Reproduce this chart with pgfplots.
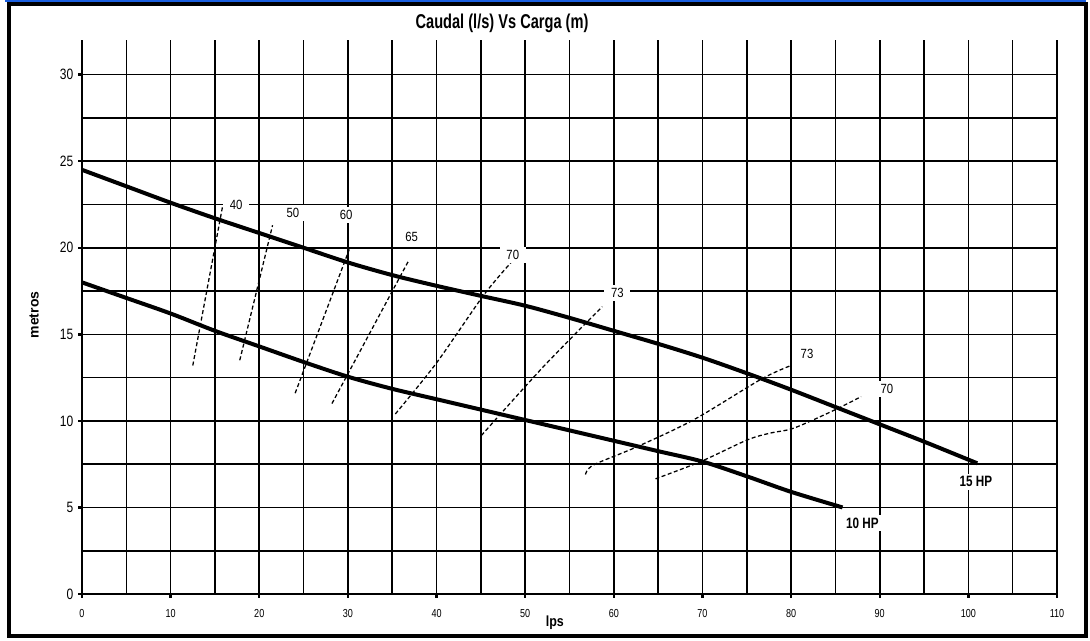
\documentclass[border=0pt]{standalone}
\usepackage{fontspec}
\setmainfont{Liberation Sans}
\usepackage{pgfplots}
\pgfplotsset{compat=1.18}
\definecolor{topblue}{HTML}{1A5FE0}
\newcommand{\sq}[2]{\scalebox{#1}[1]{#2}}

\begin{document}
\begin{tikzpicture}[
    curve/.style={black, line width=3pt, smooth, tension=0.5},
    eff/.style={black, line width=0.95pt, dash pattern=on 3pt off 1.9pt, smooth},
    lbl/.style={fill=white, inner xsep=5pt, inner ysep=2.5pt,
        font=\fontsize{10}{12}\selectfont},
    hp/.style={fill=white, inner xsep=2pt, inner ysep=2pt,
        font=\fontsize{11.25}{13}\selectfont\bfseries},
]
\begin{scope}[x=0.75pt,y=0.75pt]
\path[use as bounding box] (0,0) rectangle (1090,641);
\fill[topblue] (5,639) rectangle (1086,641);
\draw[line width=3pt] (9,5) rectangle (1086,637);
\end{scope}

\begin{axis}[
    at={(61.5pt,35.25pt)}, anchor=origin,
    scale only axis,
    width=731.25pt, height=415.5pt,
    xmin=0, xmax=110, ymin=0, ymax=32,
    axis lines*=left,
    axis line style={line width=2.2pt},
    xtick={0,10,...,110},
    ytick={0,5,...,30},
    minor xtick={5,15,...,105},
    minor ytick={2.5,7.5,...,27.5},
    grid=both,
    major grid style={black, line width=1.2pt},
    minor grid style={black, line width=1.2pt},
    tick align=outside,
    major tick length=3pt, minor tick length=0pt,
    tick style={black, line width=1.8pt},
    xticklabel={\sq{0.78}{\pgfmathprintnumber[assume math mode=true]{\tick}}},
    yticklabel={\sq{0.8}{\pgfmathprintnumber[assume math mode=true]{\tick}}},
    x tick label style={font=\fontsize{8.7}{10}\selectfont, yshift=-5pt},
    y tick label style={font=\fontsize{11.25}{13}\selectfont},
    title={\sq{0.73}{Caudal (l/s) Vs Carga (m)}},
    title style={font=\fontsize{15}{17}\selectfont\bfseries,
        at={(axis description cs:0.4308,1.0307)}, anchor=center, yshift=-6.5pt},
    xlabel={\sq{0.85}{lps}},
    xlabel style={font=\fontsize{11}{13}\selectfont\bfseries,
        at={(axis description cs:0.485,-0.0523)}, anchor=center},
    ylabel={metros},
    ylabel style={font=\fontsize{10.5}{12}\selectfont\bfseries,
        at={(axis description cs:-0.0492,0.5036)}, anchor=center},
]
% 15 HP
\addplot[curve] coordinates {
    (0,24.5) (5,23.55) (10,22.6) (15,21.7) (20,20.85) (25,20.0) (30,19.15)
    (35,18.42) (40,17.8) (45,17.22) (50,16.65) (55,15.95) (60,15.2)
    (65,14.45) (70,13.65) (75,12.75) (80,11.8) (85,10.8) (90,9.8)
    (95,8.8) (101,7.55)
};
% 10 HP
\addplot[curve] coordinates {
    (0,18.0) (5,17.1) (10,16.2) (15,15.2) (20,14.3) (25,13.4) (30,12.55)
    (35,11.85) (40,11.25) (45,10.65) (50,10.05) (55,9.45) (60,8.85)
    (65,8.25) (70,7.65) (75,6.8) (80,5.9) (85.8,5.0)
};
% iso-efficiency lines
\addplot[eff] coordinates {(12.5,13.2) (15.9,22.5)};
\addplot[eff] coordinates {(17.8,13.5) (21.5,21.3)};
\addplot[eff] coordinates {(24.05,11.6) (30.15,19.9)};
\addplot[eff] coordinates {(28.2,11.0) (36.85,19.25)};
\addplot[eff] coordinates {(35.35,10.4) (40,13.35) (45.3,17.25) (48.5,19.2)};
\addplot[eff] coordinates {(45.05,9.15) (52,13.1) (58.7,16.6)};
\addplot[eff] coordinates {(56.8,6.9) (57.7,7.45) (62.6,8.5) (69,10.06) (76.6,12.4) (80,13.2)};
\addplot[eff] coordinates {(64.7,6.65) (69.8,7.65) (75.06,8.9) (77.7,9.3) (80.3,9.58) (84.8,10.6) (87.9,11.4)};

\node[lbl] at (axis cs:17.4,22.5) {\sq{0.85}{40}};
\node[lbl] at (axis cs:23.8,22.0) {\sq{0.85}{50}};
\node[lbl] at (axis cs:29.8,21.9) {\sq{0.85}{60}};
\node[lbl] at (axis cs:37.2,20.65) {\sq{0.85}{65}};
\node[lbl] at (axis cs:48.6,19.6) {\sq{0.85}{70}};
\node[lbl] at (axis cs:60.4,17.38) {\sq{0.85}{73}};
\node[lbl] at (axis cs:81.8,13.85) {\sq{0.85}{73}};
\node[lbl] at (axis cs:90.8,11.83) {\sq{0.85}{70}};
\node[hp] at (axis cs:100.85,6.49) {\sq{0.78}{15 HP}};
\node[hp] at (axis cs:88.05,4.09) {\sq{0.78}{10 HP}};
\end{axis}
\end{tikzpicture}
\end{document}
